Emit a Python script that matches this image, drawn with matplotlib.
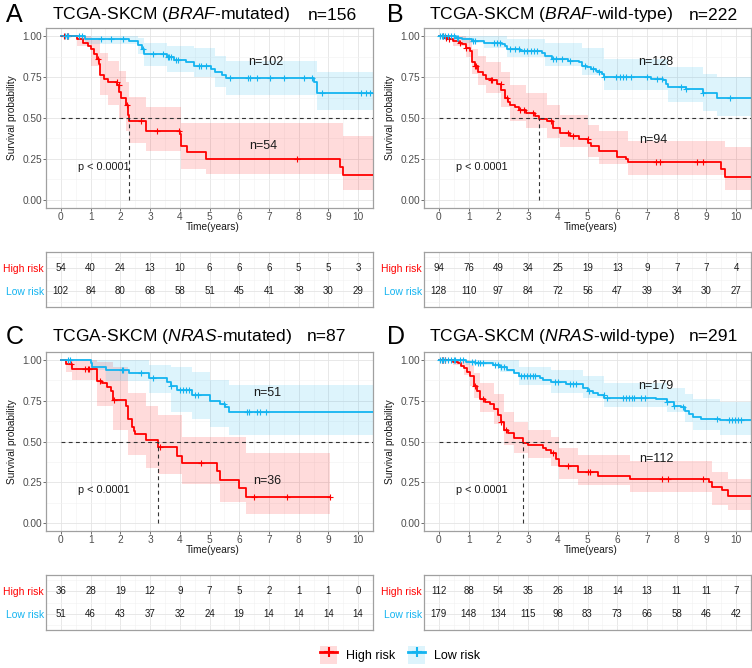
import numpy as np
import matplotlib
matplotlib.use("Agg")
import matplotlib.pyplot as plt
from matplotlib.patches import Patch
from matplotlib.lines import Line2D
from matplotlib.ticker import MultipleLocator

plt.rcParams['font.family'] = ['Liberation Sans', 'DejaVu Sans']
plt.rcParams['mathtext.fontset'] = 'custom'
plt.rcParams['mathtext.rm'] = 'Liberation Sans'
plt.rcParams['mathtext.it'] = 'Liberation Sans:italic'

RED = '#FF0000'
BLUE = '#14B4F0'

# ---------------- data ----------------
panel_letters = ['A', 'B', 'C', 'D']
panel_groups = ['BRAF', 'BRAF', 'NRAS', 'NRAS']
panel_status = ['-mutated)', '-wild-type)', '-mutated)', '-wild-type)']
panel_n = ['n=156', 'n=222', 'n=87', 'n=291']
n_high = ['n=54', 'n=94', 'n=36', 'n=112']
n_low = ['n=102', 'n=128', 'n=51', 'n=179']
p_text = 'p < 0.0001'
years = [0, 1, 2, 3, 4, 5, 6, 7, 8, 9, 10]

# Panel A
A_high_t = [0, 0.55, 0.75, 0.9, 1.0, 1.1, 1.2, 1.28, 1.32, 1.45, 1.6, 1.9, 1.97, 2.02, 2.2, 2.25, 2.28, 2.85, 4.0, 4.05, 4.25, 4.87, 9.4, 9.48]
A_high_s = [1.0, 0.98, 0.96, 0.94, 0.92, 0.89, 0.86, 0.83, 0.76, 0.74, 0.72, 0.70, 0.66, 0.62, 0.58, 0.52, 0.48, 0.42, 0.40, 0.33, 0.29, 0.25, 0.20, 0.15]
A_high_cens = [0.1, 0.2, 0.25, 1.25, 1.88, 1.95, 2.22, 2.7, 3.25, 3.97, 7.95]
A_high_band_t = [0, 0.55, 1.0, 1.32, 1.6, 1.97, 2.2, 2.28, 2.85, 4.05, 4.87, 9.48]
A_high_up = [1.0, 1.0, 0.99, 0.90, 0.85, 0.79, 0.72, 0.63, 0.57, 0.47, 0.47, 0.39]
A_high_lo = [1.0, 0.94, 0.82, 0.64, 0.58, 0.50, 0.42, 0.35, 0.30, 0.19, 0.16, 0.06]
A_high_end = 10.5
A_low_t = [0, 0.8, 2.3, 2.58, 2.72, 2.8, 3.58, 3.8, 4.2, 4.48, 5.04, 5.2, 5.43, 5.54, 8.5, 8.62]
A_low_s = [1.0, 0.98, 0.97, 0.945, 0.92, 0.89, 0.87, 0.855, 0.84, 0.82, 0.80, 0.78, 0.76, 0.745, 0.72, 0.655]
A_low_cens = [0.15, 0.2, 0.25, 0.6, 0.7, 1.35, 1.7, 2.1, 2.75, 3.1, 3.45, 3.6, 3.65, 3.7, 3.87, 3.95, 4.65, 4.72, 4.87, 5.7, 6.3, 6.35, 6.6, 7.05, 7.5, 8.17, 8.45, 8.8, 10.1, 10.25, 10.4]
A_low_band_t = [0, 0.8, 2.58, 2.8, 3.58, 4.48, 5.2, 5.54, 8.62]
A_low_up = [1.0, 1.0, 0.99, 0.96, 0.94, 0.93, 0.88, 0.85, 0.78]
A_low_lo = [1.0, 0.95, 0.89, 0.82, 0.78, 0.75, 0.69, 0.64, 0.55]
A_low_end = 10.5
A_risk_high = [54, 40, 24, 13, 10, 6, 6, 6, 5, 5, 3]
A_risk_low = [102, 84, 80, 68, 58, 51, 45, 41, 38, 30, 29]

# Panel B
B_high_t = [0, 0.2, 0.3, 0.46, 0.68, 0.78, 0.9, 1.05, 1.1, 1.2, 1.3, 1.48, 1.6, 1.75, 1.96, 2.1, 2.23, 2.34, 2.4, 2.56, 2.7, 2.93, 3.25, 3.37, 3.63, 3.85, 4.06, 4.4, 4.7, 5.03, 5.13, 5.4, 6.0, 6.3, 6.37, 9.48, 9.64]
B_high_s = [1.0, 0.99, 0.98, 0.97, 0.96, 0.95, 0.93, 0.91, 0.84, 0.82, 0.78, 0.76, 0.74, 0.73, 0.71, 0.67, 0.62, 0.60, 0.58, 0.57, 0.55, 0.53, 0.51, 0.495, 0.48, 0.44, 0.41, 0.39, 0.37, 0.35, 0.33, 0.30, 0.26, 0.25, 0.23, 0.19, 0.14]
B_high_cens = [0.15, 0.25, 0.35, 0.7, 0.9, 1.2, 1.25, 1.75, 1.8, 2.08, 2.3, 2.73, 2.88, 3.15, 3.78, 4.35, 4.5, 5.0, 7.3, 7.45, 8.7, 8.9]
B_high_band_t = [0, 0.46, 0.9, 1.1, 1.3, 1.6, 2.1, 2.4, 2.93, 3.63, 4.06, 5.03, 5.4, 6.37, 9.64]
B_high_up = [1.0, 1.0, 0.99, 0.92, 0.88, 0.84, 0.78, 0.70, 0.65, 0.58, 0.52, 0.46, 0.42, 0.36, 0.32]
B_high_lo = [1.0, 0.94, 0.87, 0.77, 0.70, 0.65, 0.57, 0.48, 0.44, 0.38, 0.32, 0.26, 0.22, 0.15, 0.06]
B_high_end = 10.5
B_low_t = [0, 0.57, 0.78, 1.1, 1.53, 2.13, 2.23, 2.3, 2.72, 3.47, 3.58, 3.8, 4.33, 4.7, 4.8, 4.97, 5.13, 5.3, 5.4, 5.5, 5.56, 7.12, 7.55, 7.65, 7.7, 8.3, 8.9, 9.37]
B_low_s = [1.0, 0.99, 0.98, 0.97, 0.96, 0.95, 0.94, 0.92, 0.91, 0.90, 0.88, 0.86, 0.85, 0.84, 0.82, 0.81, 0.80, 0.79, 0.78, 0.77, 0.75, 0.74, 0.73, 0.71, 0.69, 0.68, 0.65, 0.62]
B_low_cens = [0.05, 0.1, 0.15, 0.2, 0.3, 0.4, 0.5, 0.6, 0.65, 1.15, 1.2, 1.85, 1.95, 2.05, 2.4, 2.55, 2.7, 2.85, 2.95, 3.1, 3.2, 3.3, 3.85, 3.95, 4.15, 4.4, 4.92, 5.2, 5.4, 5.56, 5.95, 6.1, 6.2, 6.3, 6.48, 7.0, 7.35, 7.5, 8.15, 8.3, 8.9, 9.8]
B_low_band_t = [0, 0.78, 1.53, 2.3, 3.58, 4.8, 5.56, 7.7, 8.9, 9.37]
B_low_up = [1.0, 1.0, 1.0, 0.98, 0.96, 0.93, 0.86, 0.81, 0.77, 0.75]
B_low_lo = [1.0, 0.96, 0.93, 0.87, 0.82, 0.76, 0.67, 0.60, 0.54, 0.51]
B_low_end = 10.5
B_risk_high = [94, 76, 49, 34, 25, 19, 13, 9, 7, 7, 4]
B_risk_low = [128, 110, 97, 84, 72, 56, 47, 39, 34, 30, 27]

# Panel C
C_high_t = [0, 0.17, 0.39, 1.23, 1.4, 1.56, 1.68, 1.77, 2.18, 2.27, 2.38, 2.46, 2.51, 2.85, 3.27, 3.91, 4.08, 5.25, 5.36, 6.0, 6.23]
C_high_s = [1.0, 0.975, 0.945, 0.873, 0.86, 0.836, 0.81, 0.757, 0.72, 0.64, 0.587, 0.566, 0.546, 0.51, 0.464, 0.413, 0.368, 0.317, 0.264, 0.213, 0.157]
C_high_cens = [0.35, 0.8, 0.9, 0.95, 1.3, 1.8, 3.35, 4.7, 6.5, 7.6, 9.05]
C_high_band_t = [0, 0.17, 0.39, 1.23, 1.77, 2.27, 2.85, 3.27, 4.08, 5.36, 6.23]
C_high_up = [1.0, 1.0, 1.0, 0.99, 0.96, 0.80, 0.72, 0.66, 0.53, 0.53, 0.43]
C_high_lo = [1.0, 0.93, 0.88, 0.72, 0.57, 0.42, 0.34, 0.30, 0.24, 0.13, 0.055]
C_high_end = 9.05
C_low_t = [0, 1.0, 1.06, 1.51, 2.29, 2.96, 3.58, 3.69, 3.91, 4.41, 5.03, 5.36, 5.53, 5.64]
C_low_s = [1.0, 0.98, 0.96, 0.94, 0.92, 0.89, 0.867, 0.843, 0.818, 0.787, 0.75, 0.73, 0.71, 0.68]
C_low_cens = [0.25, 0.32, 2.05, 2.1, 2.7, 3.1, 3.7, 4.0, 4.1, 4.2, 4.3, 4.5, 4.6, 5.5, 6.27, 6.32, 6.6, 6.7, 6.9]
C_low_band_t = [0, 1.0, 1.51, 2.96, 3.69, 4.41, 5.03, 5.64]
C_low_up = [1.0, 1.0, 1.0, 0.97, 0.96, 0.93, 0.88, 0.85]
C_low_lo = [1.0, 0.94, 0.87, 0.80, 0.68, 0.64, 0.59, 0.54]
C_low_end = 10.5
C_risk_high = [36, 28, 19, 12, 9, 7, 5, 2, 1, 1, 0]
C_risk_low = [51, 46, 43, 37, 32, 24, 19, 14, 14, 14, 14]

# Panel D
D_high_t = [0, 0.47, 0.63, 0.74, 0.85, 0.95, 1.06, 1.17, 1.28, 1.39, 1.55, 1.71, 1.87, 1.98, 2.09, 2.2, 2.31, 2.52, 2.83, 3.01, 3.5, 3.61, 3.77, 3.93, 4.04, 4.69, 5.34, 6.42, 9.08, 9.19, 9.51, 9.73]
D_high_s = [1.0, 0.99, 0.98, 0.965, 0.95, 0.93, 0.90, 0.84, 0.81, 0.76, 0.74, 0.73, 0.70, 0.66, 0.62, 0.57, 0.55, 0.52, 0.49, 0.48, 0.46, 0.45, 0.43, 0.39, 0.35, 0.31, 0.29, 0.27, 0.25, 0.22, 0.20, 0.165]
D_high_cens = [0.1, 0.15, 0.2, 1.2, 1.5, 2.1, 2.25, 3.85, 4.35, 5.0, 5.1, 7.5, 7.7, 8.9]
D_high_band_t = [0, 0.47, 0.85, 1.06, 1.17, 1.39, 1.87, 2.2, 2.52, 3.01, 3.77, 4.04, 4.69, 6.42, 9.19, 9.73]
D_high_up = [1.0, 1.0, 1.0, 0.97, 0.92, 0.86, 0.79, 0.68, 0.62, 0.57, 0.53, 0.46, 0.42, 0.38, 0.31, 0.27]
D_high_lo = [1.0, 0.97, 0.91, 0.84, 0.77, 0.68, 0.61, 0.48, 0.43, 0.40, 0.35, 0.27, 0.23, 0.19, 0.11, 0.08]
D_high_end = 10.5
D_low_t = [0, 0.9, 1.22, 1.82, 2.04, 2.3, 2.52, 2.7, 3.4, 3.5, 3.77, 4.26, 4.85, 5.0, 5.2, 5.34, 5.56, 7.3, 7.67, 7.9, 8.16, 8.27, 8.43, 8.54, 8.81, 9.46]
D_low_s = [1.0, 0.99, 0.98, 0.97, 0.96, 0.94, 0.92, 0.90, 0.89, 0.88, 0.865, 0.855, 0.83, 0.81, 0.80, 0.785, 0.77, 0.76, 0.74, 0.72, 0.71, 0.69, 0.67, 0.65, 0.64, 0.63]
D_low_cens = [0.05, 0.1, 0.15, 0.2, 0.3, 0.4, 0.5, 0.55, 0.7, 0.8, 1.1, 1.2, 1.3, 1.4, 1.5, 1.9, 2.0, 2.1, 2.2, 2.75, 2.85, 2.95, 3.05, 3.15, 3.25, 3.9, 4.0, 4.4, 4.5, 4.6, 5.05, 5.55, 5.65, 6.2, 6.3, 6.4, 6.5, 6.55, 6.8, 6.95, 7.67, 7.9, 8.2, 9.35, 9.75, 9.85, 9.95, 10.05, 10.15]
D_low_band_t = [0, 0.9, 2.04, 2.7, 3.77, 4.85, 5.56, 7.67, 8.27, 8.54, 9.46]
D_low_up = [1.0, 1.0, 1.0, 0.96, 0.94, 0.90, 0.86, 0.83, 0.79, 0.76, 0.745]
D_low_lo = [1.0, 0.97, 0.93, 0.85, 0.80, 0.77, 0.71, 0.68, 0.62, 0.57, 0.54]
D_low_end = 10.5
D_risk_high = [112, 88, 54, 35, 26, 18, 14, 13, 11, 11, 7]
D_risk_low = [179, 148, 134, 115, 98, 83, 73, 66, 58, 46, 42]

panels = [
    dict(high=(A_high_t, A_high_s, A_high_cens, A_high_band_t, A_high_up, A_high_lo, A_high_end),
         low=(A_low_t, A_low_s, A_low_cens, A_low_band_t, A_low_up, A_low_lo, A_low_end),
         rh=A_risk_high, rl=A_risk_low),
    dict(high=(B_high_t, B_high_s, B_high_cens, B_high_band_t, B_high_up, B_high_lo, B_high_end),
         low=(B_low_t, B_low_s, B_low_cens, B_low_band_t, B_low_up, B_low_lo, B_low_end),
         rh=B_risk_high, rl=B_risk_low),
    dict(high=(C_high_t, C_high_s, C_high_cens, C_high_band_t, C_high_up, C_high_lo, C_high_end),
         low=(C_low_t, C_low_s, C_low_cens, C_low_band_t, C_low_up, C_low_lo, C_low_end),
         rh=C_risk_high, rl=C_risk_low),
    dict(high=(D_high_t, D_high_s, D_high_cens, D_high_band_t, D_high_up, D_high_lo, D_high_end),
         low=(D_low_t, D_low_s, D_low_cens, D_low_band_t, D_low_up, D_low_lo, D_low_end),
         rh=D_risk_high, rl=D_risk_low),
]

# ---------------- layout (pixels) ----------------
W, H = 752, 668
fig = plt.figure(figsize=(W / 100, H / 100), dpi=100)


def add_ax(l, t, w, h):
    return fig.add_axes([l / W, 1 - (t + h) / H, w / W, h / H])


def fx(px):
    return px / W


def fy(py):
    return 1 - py / H


XLIM = (-0.5, 10.5)
km_boxes = [(46, 28, 327, 180), (424, 28, 327, 180), (46, 352, 327, 179), (424, 352, 327, 179)]
tab_boxes = [(46, 252, 327, 55), (424, 252, 327, 55), (46, 575, 327, 55), (424, 575, 327, 55)]
title_y = [15, 15, 337, 337]
letter_x = [6, 387, 6, 387]
ylab_x = [12, 390, 12, 390]
title_x = [52, 429, 52, 429]
n_x = [308, 689, 307, 689]
n_pos_high = [(6.8, 0.33), (7.2, 0.365), (6.95, 0.26), (7.3, 0.39)]
n_pos_low = [(6.9, 0.84), (7.3, 0.84), (6.93, 0.80), (7.3, 0.84)]

GRID_MAJ = '#E4E4E4'
GRID_MIN = '#F1F1F1'
SPINE = '#A0A0A0'
TXT = '#1A1A1A'


def style_grid(ax):
    ax.xaxis.set_major_locator(MultipleLocator(1))
    ax.xaxis.set_minor_locator(MultipleLocator(0.5))
    ax.grid(True, which='major', color=GRID_MAJ, lw=0.6)
    ax.grid(True, which='minor', color=GRID_MIN, lw=0.4)
    ax.set_axisbelow(True)
    for s in ax.spines.values():
        s.set_color(SPINE)
        s.set_linewidth(0.9)


def surv_at(times, surv, t):
    i = np.searchsorted(np.asarray(times), t, side='right') - 1
    return np.asarray(surv)[i]


def draw_curve(ax, data, color):
    t, s, cens, bt, up, lo, end = data
    bt2 = list(bt) + [end]
    ax.fill_between(bt2, list(up) + [up[-1]], list(lo) + [lo[-1]], step='post',
                    color=color, alpha=0.14, lw=0, zorder=2)
    ax.step(list(t) + [end], list(s) + [s[-1]], where='post', color=color, lw=1.3, zorder=4)
    cy = [surv_at(t, s, c) for c in cens]
    ax.plot(cens, cy, ls='none', marker='+', ms=5, mew=0.8, color=color, zorder=5)


for i, p in enumerate(panels):
    l, t, w, h = km_boxes[i]
    ax = add_ax(l, t, w, h)
    style_grid(ax)
    ax.set_xlim(*XLIM)
    ax.set_ylim(-0.05, 1.05)
    ax.yaxis.set_major_locator(MultipleLocator(0.25))
    ax.yaxis.set_minor_locator(MultipleLocator(0.125))
    ax.set_xticks(years)
    ax.set_yticks([0, 0.25, 0.5, 0.75, 1.0])
    ax.set_yticklabels(['0.00', '0.25', '0.50', '0.75', '1.00'])
    ax.tick_params(which='major', length=2, width=0.6, color='#555555', labelsize=7.3,
                   labelcolor='#4D4D4D', pad=0.8)
    ax.tick_params(which='minor', length=0)

    draw_curve(ax, p['high'], RED)
    draw_curve(ax, p['low'], BLUE)

    # median lines
    ht, hs = p['high'][0], p['high'][1]
    med = [tt for tt, ss in zip(ht, hs) if ss <= 0.5][0]
    ax.plot([0, XLIM[1]], [0.5, 0.5], color='#333333', lw=0.8, dashes=(3.5, 3), zorder=6)
    ax.plot([med, med], [0, 0.5], color='#333333', lw=0.8, dashes=(3.5, 3), zorder=6)

    ax.text(1.45, 0.2, p_text, ha='center', va='center', fontsize=7.8, color=TXT, zorder=7)
    ax.text(*n_pos_high[i], n_high[i], ha='center', va='center', fontsize=9, color=TXT, zorder=7)
    ax.text(*n_pos_low[i], n_low[i], ha='center', va='center', fontsize=9, color=TXT, zorder=7)

    fig.text(fx(ylab_x[i]), fy(t + h / 2), 'Survival probability', rotation=90, ha='center',
             va='center', fontsize=7.3, color=TXT)
    fig.text(fx(l + w / 2 + 3), fy(t + h + 19), 'Time(years)', ha='center', va='center',
             fontsize=7.3, color=TXT)

    # titles
    fig.text(fx(letter_x[i]), fy(title_y[i]), panel_letters[i], ha='left', va='center', fontsize=18)
    fig.text(fx(title_x[i]), fy(title_y[i]),
             'TCGA-SKCM ($\\it{' + panel_groups[i] + '}$' + panel_status[i],
             ha='left', va='center', fontsize=12.6)
    fig.text(fx(n_x[i]), fy(title_y[i]), panel_n[i], ha='left', va='center', fontsize=12.6)

    # risk table
    l2, t2, w2, h2 = tab_boxes[i]
    tx = add_ax(l2, t2, w2, h2)
    style_grid(tx)
    tx.set_xlim(*XLIM)
    tx.set_ylim(-0.7, 1.7)
    tx.set_yticks([1, 0])
    tx.yaxis.set_minor_locator(MultipleLocator(0.5))
    tx.set_yticklabels(['High risk', 'Low risk'])
    tx.tick_params(which='both', length=0, labelsize=7.5, pad=1.5)
    tx.set_xticklabels([])
    for lab, c in zip(tx.get_yticklabels(), [RED, BLUE]):
        lab.set_color(c)
    for yr, nh, nl in zip(years, p['rh'], p['rl']):
        tx.text(yr, 1, str(nh), ha='center', va='center', fontsize=7, color=TXT)
        tx.text(yr, 0, str(nl), ha='center', va='center', fontsize=7, color=TXT)

# legend
handles = [(Patch(facecolor=RED, alpha=0.14, lw=0), Line2D([], [], color=RED, lw=2, marker='+', ms=7, mew=1.5)),
           (Patch(facecolor=BLUE, alpha=0.14, lw=0), Line2D([], [], color=BLUE, lw=2, marker='+', ms=7, mew=1.5))]
fig.legend(handles=handles, labels=['High risk', 'Low risk'], loc='center', bbox_to_anchor=(fx(400), fy(655)),
           ncol=2, frameon=False, fontsize=9, handlelength=1.4, handleheight=1.9, columnspacing=1.0,
           handletextpad=0.7, numpoints=1)

fig.savefig('out.png', dpi=100)
